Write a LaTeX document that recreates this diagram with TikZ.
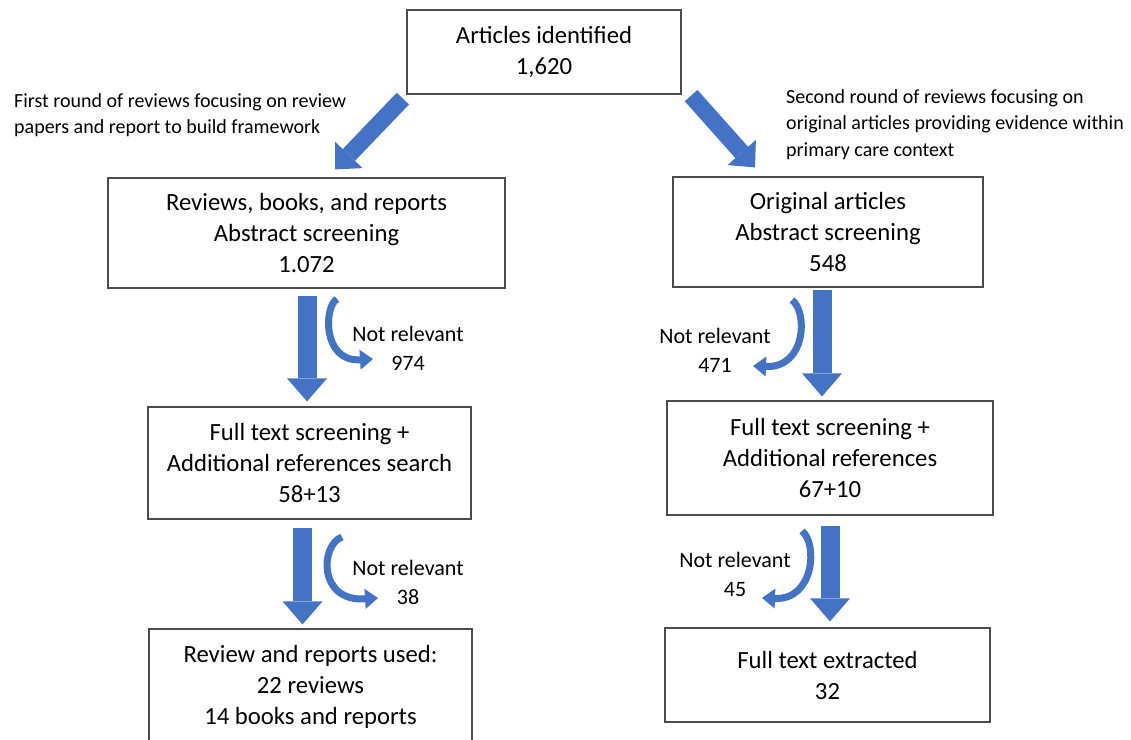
\documentclass[tikz,border=0pt]{standalone}
\usepackage{fontspec}
\setmainfont{Carlito}
\usepackage{xcolor}
\usetikzlibrary{calc}
\usetikzlibrary{arrows.meta}
\definecolor{blockblue}{HTML}{4472C4}
\tikzset{
stagebox/.style = {draw=black!70,
        line width=1.2pt,
        align=center,
        inner sep=0pt,
        font=\fontsize{24.7}{31}\selectfont
            },
roundnote/.style = {align=left,
        inner sep=0pt,
        font=\fontsize{20}{26.5}\selectfont
            },
droplabel/.style = {align=center,
        inner sep=0pt,
        font=\fontsize{22}{29}\selectfont
            },
BA/.style = {blockblue,
        line width=19pt,
        -{Triangle[length=23pt, width=40pt, line width=0pt]}
            },
BD/.style = {blockblue,
        line width=17pt,
        -{Triangle[length=20pt, width=38pt, line width=0pt]}
            },
BC/.style = {blockblue,
        line width=7pt,
        -{Triangle[length=13pt, width=20pt, line width=0pt]}
            }
        }

\begin{document}
\begin{tikzpicture}[x=1pt, y=-1pt]

%%% Page frame:

\useasboundingbox (0,0) rectangle (1131,739);

%%% Boxes:

\node[stagebox, minimum width=274, minimum height=84] (ART) at (544,52)
     {Articles identified\\1,620};

\node[stagebox, minimum width=397, minimum height=110] (REV1) at (306.5,233)
     {Reviews, books, and reports\\Abstract screening\\1.072};
\node[stagebox, minimum width=323, minimum height=112] (REV2) at (309.5,463)
     {Full text screening +\\Additional references search\\58+13};
\node[stagebox, minimum width=323, minimum height=116] (REV3) at (310.5,687)
     {Review and reports used:\\22 reviews\\14 books and reports};

\node[stagebox, minimum width=310, minimum height=110] (ORG1) at (828,232)
     {Original articles\\Abstract screening\\548};
\node[stagebox, minimum width=326, minimum height=114] (ORG2) at (830,458)
     {Full text screening +\\Additional references\\67+10};
\node[stagebox, minimum width=325, minimum height=94] (ORG3) at (827.5,675)
     {Full text extracted\\32};

%%% Notes:

\node[roundnote, anchor=north west] (N1) at (14,93)
     {First round of reviews focusing on review\\papers and report to build framework};
\node[roundnote, anchor=north west] (N2) at (786,89)
     {Second round of reviews focusing on\\original articles providing evidence within\\primary care context};

\node[droplabel] (D1) at (408,348) {Not relevant\\974};
\node[droplabel] (D2) at (715,350) {Not relevant\\471};
\node[droplabel] (D3) at (408,582) {Not relevant\\38};
\node[droplabel] (D4) at (735,574) {Not relevant\\45};

%%% Block arrows:

\draw[BD] ($(ART.south west)+(-3.5,4)$) -- ($(REV1.north)+(28.5,-8)$);
\draw[BD] ($(ART.south east)+(9.5,1)$) -- ($(ORG1.north)+(-73,-9)$);

\draw[BA] ($(REV1.south)+(0.5,7)$) -- ($(REV2.north)+(-2.5,-5)$);
\draw[BA] ($(REV2.south)+(-7,8)$) -- ($(REV3.north)+(-8,-4)$);

\draw[BA] ($(ORG1.south)+(-6,2)$) -- ($(ORG2.north)+(-8,-4)$);
\draw[BA] ($(ORG2.south)+(0,10)$) -- ($(ORG3.north)+(2.5,-6)$);

%%% Curved arrows:

\coordinate (C1s) at (337,299);
\coordinate (C1e) at (373,359);
\coordinate (C2s) at (792,300);
\coordinate (C2e) at (753,366);
\coordinate (C3s) at (342,537);
\coordinate (C3e) at (378,598);
\coordinate (C4s) at (802,531);
\coordinate (C4e) at (762,598);

\draw[BC] (C1s) .. controls (324,306) and (322,362) .. (C1e);
\draw[BC] (C2s) .. controls (808,312) and (806,368) .. (C2e);
\draw[BC] (C3s) .. controls (320,545) and (318,602) .. (C3e);
\draw[BC] (C4s) .. controls (818,544) and (814,600) .. (C4e);

\end{tikzpicture}
\end{document}
